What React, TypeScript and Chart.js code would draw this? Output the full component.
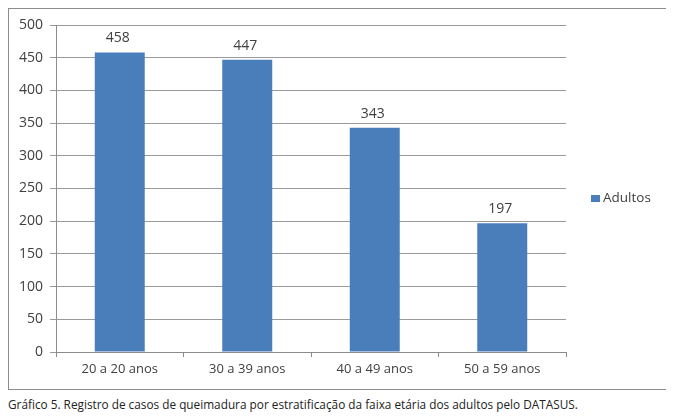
import React, { useEffect, useRef } from "react";
import { Chart, registerables } from "chart.js";

Chart.register(...registerables);

const categories = ["20 a 20 anos", "30 a 39 anos", "40 a 49 anos", "50 a 59 anos"];
const adultos = [458, 447, 343, 197];
const seriesLabel = "Adultos";
const caption =
  "Gráfico 5. Registro de casos de queimadura por estratificação da faixa etária dos adultos pelo DATASUS.";

const BAR = "#4a7ebb";
const TEXT = "#404040";
const FONT = "'Open Sans', sans-serif";

const valueLabels = {
  id: "valueLabels",
  afterDatasetsDraw(chart: any) {
    const ctx = chart.ctx;
    const meta = chart.getDatasetMeta(0);
    const data = chart.data.datasets[0].data;
    ctx.save();
    ctx.font = `14px ${FONT}`;
    ctx.fillStyle = TEXT;
    ctx.textAlign = "center";
    ctx.textBaseline = "bottom";
    meta.data.forEach((el: any, i: number) => {
      ctx.fillText(String(data[i]), el.x - 2, el.y - 7);
    });
    ctx.restore();
  },
};

const sideLegend = {
  id: "sideLegend",
  afterDraw(chart: any) {
    const ctx = chart.ctx;
    const ds = chart.data.datasets[0];
    const x = 582;
    const y = 189;
    ctx.save();
    ctx.fillStyle = ds.backgroundColor;
    ctx.fillRect(x, y - 3, 9, 7);
    ctx.font = `13.5px ${FONT}`;
    ctx.fillStyle = TEXT;
    ctx.textAlign = "left";
    ctx.textBaseline = "middle";
    ctx.fillText(ds.label, x + 12, y);
    ctx.restore();
  },
};

export default function App() {
  const ref = useRef<HTMLCanvasElement>(null);
  useEffect(() => {
    if (!ref.current) return;
    const chart = new Chart(ref.current, {
      type: "bar",
      data: {
        labels: categories,
        datasets: [
          {
            label: seriesLabel,
            data: adultos,
            backgroundColor: BAR,
            borderWidth: 0,
            categoryPercentage: 0.8,
            barPercentage: 0.49,
          },
        ],
      },
      options: {
        responsive: false,
        animation: false,
        layout: { padding: { top: 16, right: 103, left: 0, bottom: 0 } },
        plugins: {
          legend: { display: false },
          tooltip: { enabled: false },
        },
        scales: {
          x: {
            grid: {
              display: true,
              drawOnChartArea: false,
              drawTicks: true,
              tickLength: 5,
              offset: true,
              color: "#8c8c8c",
            },
            border: { color: "#8c8c8c" },
            ticks: { color: TEXT, font: { family: FONT, size: 13 }, padding: 4 },
            afterFit: (s: any) => {
              s.height = 37;
            },
          },
          y: {
            min: 0,
            max: 500,
            ticks: {
              stepSize: 50,
              color: TEXT,
              font: { family: FONT, size: 14 },
              padding: 7,
            },
            grid: { color: "#9a9a9a", tickLength: 6 },
            border: { color: "#8c8c8c" },
            afterFit: (s: any) => {
              s.width = 47;
            },
          },
        },
      },
      plugins: [valueLabels, sideLegend],
    });
    return () => chart.destroy();
  }, []);

  return (
    <div>
      <div style={{ width: 660, height: 380, border: "1px solid #8c8c8c" }}>
        <canvas ref={ref} width={660} height={380} style={{ display: "block" }} />
      </div>
      <div
        style={{
          fontFamily: FONT,
          fontSize: 11.8,
          color: "#222",
          marginTop: 6,
          whiteSpace: "nowrap",
        }}
      >
        {caption}
      </div>
    </div>
  );
}
